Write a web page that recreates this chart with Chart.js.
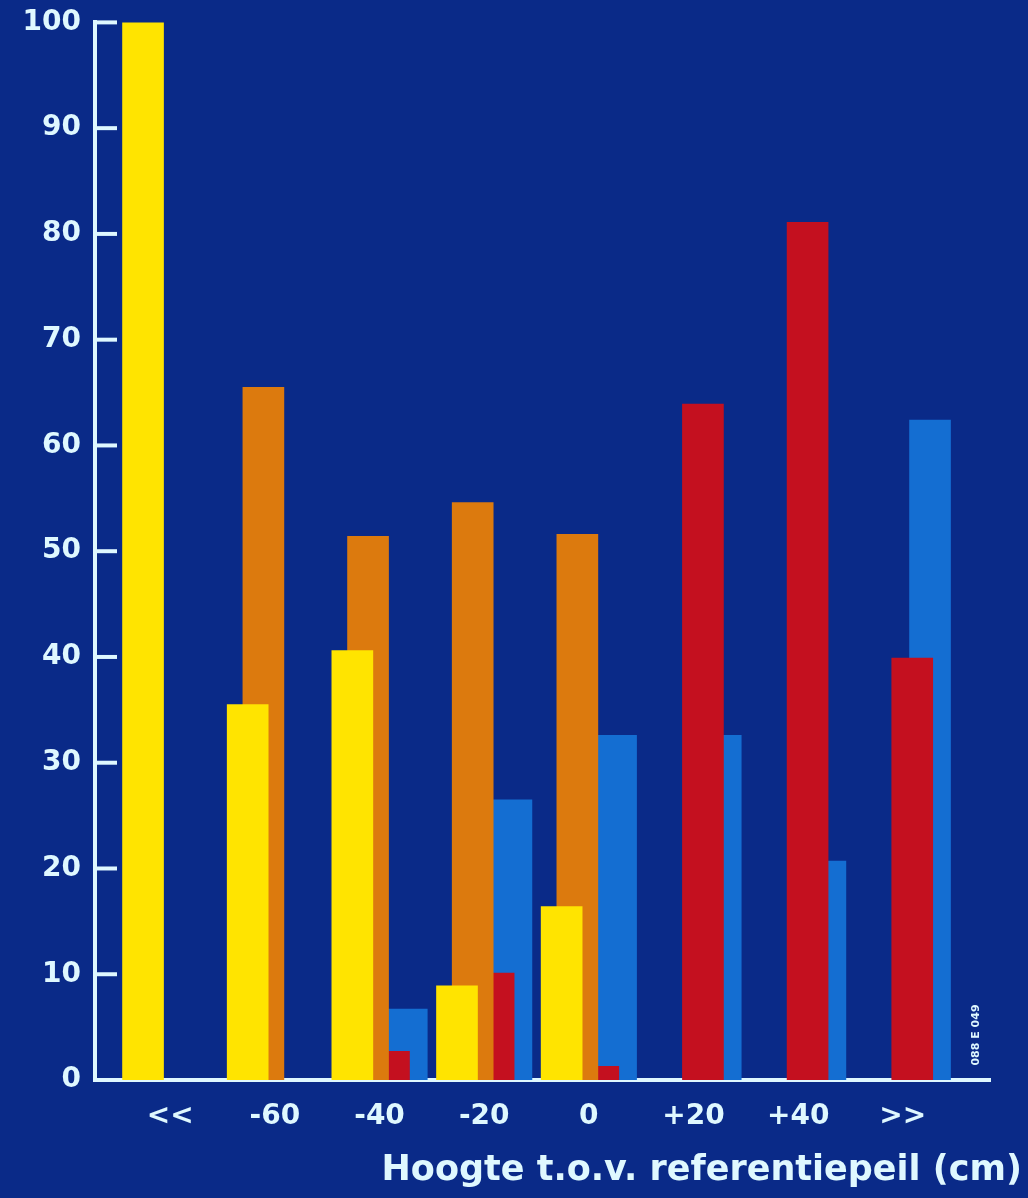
<!DOCTYPE html>
<html lang="nl">
<head>
    <meta charset="UTF-8" />
    <script src="https://cdn.jsdelivr.net/npm/chart.js"></script>
    <title>Hoogte t.o.v. referentiepeil</title>
    <style>
        html, body { margin: 0; padding: 0; background: #0a2a88; }
        .grafiek { width: 1028px; height: 1198px; }
    </style>
</head>
<body>
    <div class="grafiek"><canvas id="myChart" width="1028" height="1198"></canvas></div>

<script>
// categorieen op de x-as
var hoogtes = ["<<", "-60", "-40", "-20", "0", "+20", "+40", ">>"];
// percentages per reeks (null = geen staaf)
var geel   = [100, 35.5, 40.6, 8.9, 16.4, null, null, null];
var oranje = [null, 65.5, 51.4, 54.6, 51.6, null, null, null];
var rood   = [null, null, 2.7, 10.1, 1.3, 63.9, 81.1, 39.9];
var blauw  = [null, null, 6.7, 26.5, 32.6, 32.6, 20.7, 62.4];
var yTicks = [0, 10, 20, 30, 40, 50, 60, 70, 80, 90, 100];

var asKleur = "#dff8ff";
var letter = "'DejaVu Sans', 'Liberation Sans', sans-serif";

// elke reeks schuift iets naar rechts binnen de groep
function punten(waarden, verschuiving) {
    return waarden.map(function (v, i) { return { x: i + verschuiving, y: v }; });
}

function reeks(waarden, verschuiving, kleur, volgorde) {
    return {
        data: punten(waarden, verschuiving),
        backgroundColor: kleur,
        borderWidth: 0,
        barThickness: 41,
        grouped: false,
        order: volgorde
    };
}

// korte streepjes naar binnen op de y-as + klein kenmerk rechtsonder
var extraTekening = {
    id: "extraTekening",
    afterDraw: function (chart) {
        var ctx = chart.ctx;
        var y = chart.scales.y;
        var links = chart.chartArea.left;
        ctx.save();
        ctx.strokeStyle = asKleur;
        ctx.lineWidth = 4;
        yTicks.forEach(function (t) {
            if (t === 0) return;
            var py = y.getPixelForValue(t);
            ctx.beginPath();
            ctx.moveTo(links, py);
            ctx.lineTo(links + 22, py);
            ctx.stroke();
        });
        ctx.translate(chart.chartArea.right - 14, chart.chartArea.bottom - 45);
        ctx.rotate(-Math.PI / 2);
        ctx.fillStyle = asKleur;
        ctx.font = "bold 11px " + letter;
        ctx.textAlign = "center";
        ctx.textBaseline = "middle";
        ctx.fillText("088 E 049", 0, 0);
        ctx.restore();
    }
};

var ctx = document.getElementById("myChart");
var chart = new Chart(ctx, {
    type: "bar",
    data: {
        datasets: [
            reeks(blauw, 0.52, "#146ed2", 4),
            reeks(rood, 0.35, "#c4101f", 3),
            reeks(oranje, 0.15, "#dc7a0e", 2),
            reeks(geel, 0, "#ffe400", 1)
        ]
    },
    options: {
        responsive: false,
        animation: false,
        layout: { padding: { top: 19, left: 0, right: 6, bottom: 0 } },
        plugins: {
            legend: { display: false },
            tooltip: { enabled: false },
            title: {
                display: true,
                position: "bottom",
                align: "end",
                text: "Hoogte t.o.v. referentiepeil (cm)",
                color: asKleur,
                font: { family: letter, size: 35, weight: "bold" },
                padding: { top: 2, bottom: 6 }
            }
        },
        scales: {
            x: {
                type: "linear",
                offset: false,
                min: -0.459,
                max: 8.093,
                grid: { display: false, drawTicks: false },
                border: { display: true, color: asKleur, width: 4 },
                afterBuildTicks: function (s) {
                    s.ticks = hoogtes.map(function (h, i) { return { value: i + 0.26 }; });
                },
                afterFit: function (s) { s.height = 68; },
                ticks: {
                    autoSkip: false,
                    maxRotation: 0,
                    padding: 20,
                    color: asKleur,
                    font: { family: letter, size: 28, weight: "bold" },
                    callback: function (v, i) { return hoogtes[i]; }
                }
            },
            y: {
                min: 0,
                max: 100,
                grid: { display: false, drawTicks: false },
                border: { display: true, color: asKleur, width: 4 },
                afterBuildTicks: function (s) {
                    s.ticks = yTicks.map(function (t) { return { value: t }; });
                },
                afterFit: function (s) { s.width = 95; },
                ticks: {
                    padding: 14,
                    color: asKleur,
                    font: { family: letter, size: 28, weight: "bold", lineHeight: 0.6 }
                }
            },
            rechts: {
                type: "linear",
                position: "right",
                display: true,
                grid: { display: false, drawTicks: false },
                border: { display: false },
                ticks: { display: false },
                afterFit: function (s) { s.width = 32; }
            }
        }
    },
    plugins: [extraTekening]
});
</script>
</body>
</html>
